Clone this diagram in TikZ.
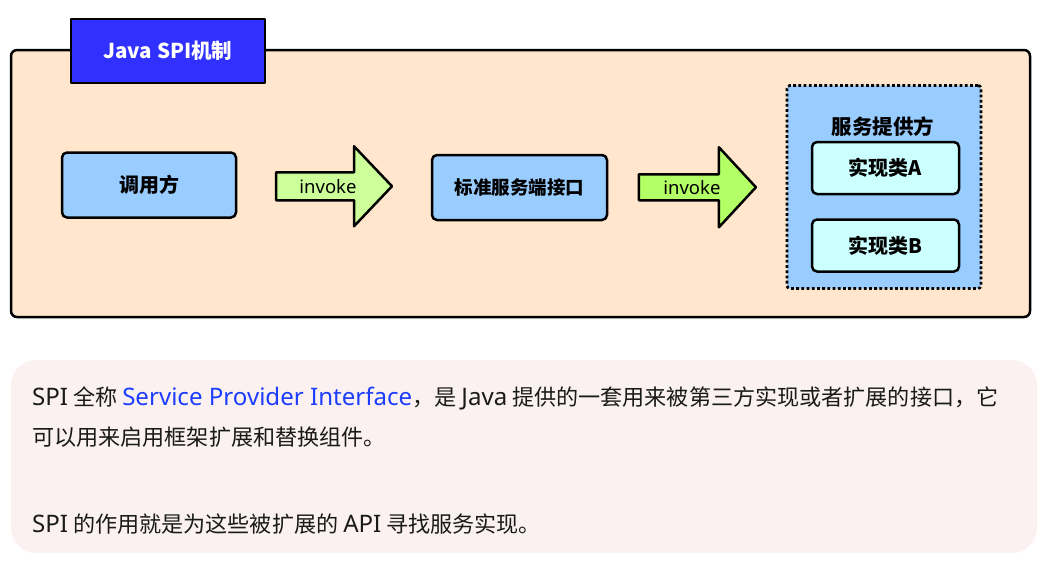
\documentclass[tikz,border=0pt]{standalone}
\usepackage{fontspec}
\usepackage{tikz}
\usetikzlibrary{positioning,calc}
\setmainfont{Noto Sans}
\newfontfamily\zh{Noto Sans CJK SC}
\newfontfamily\en{Noto Sans}[Scale=1.09]

\definecolor{peach}{HTML}{FFE6CC}
\definecolor{boxblue}{HTML}{99CCFF}
\definecolor{titleblue}{HTML}{3030FF}
\definecolor{greenA}{HTML}{CCFF99}
\definecolor{greenB}{HTML}{B3FF66}
\definecolor{implcyan}{HTML}{CCFFFF}
\definecolor{panel}{HTML}{FAF1F0}
\definecolor{link}{HTML}{1C3CFF}
\definecolor{ink}{HTML}{1A1A1A}

\begin{document}
\begin{tikzpicture}[x=1pt, y=-1pt, line join=round,
  frame/.style = {draw, line width=2.5pt, rounded corners=6pt},
  main/.style = {draw, line width=2.5pt, rounded corners=5pt, fill=boxblue, inner sep=0pt,
    font=\zh\bfseries\fontsize{20}{24}\selectfont},
  impl/.style = {main, fill=implcyan, minimum width=147pt, minimum height=52pt},
  blk/.style = {draw, line width=2.5pt},
  para/.style = {anchor=base west, inner sep=0pt, text=ink, font=\zh\fontsize{22.1}{26}\selectfont}]
\useasboundingbox (0,0) rectangle (1059,573);

% upper frame
\draw[frame, fill=peach] (11,50) rectangle (1030,317);
\node[draw, line width=2.5pt, fill=titleblue, text=white, minimum width=194pt, minimum height=64pt,
  font=\zh\bfseries\fontsize{20.5}{24}\selectfont] (title) at (168,51) {Java SPI机制};

\node[main, minimum width=174pt, minimum height=65pt] (call) at (149,185) {调用方};
\node[main, minimum width=175pt, minimum height=65pt, font=\zh\bfseries\fontsize{18.5}{22}\selectfont] (iface) at (519.5,187.5) {标准服务端接口};
\node[draw, line width=2.8pt, dash pattern=on 2.8pt off 2.4pt, rounded corners=3pt, fill=boxblue,
  minimum width=194pt, minimum height=203pt] (prov) at (884,187) {};
\node[font=\zh\bfseries\fontsize{20.5}{24}\selectfont] (provlabel) at (883,127) {服务提供方};
\node[impl] (implA) at (885.5,168) {实现类A};
\node[impl, below=23pt of implA] (implB) {实现类B};

% block arrows
\coordinate (m1) at ($(call.east)!0.5!(iface.west)$);
\coordinate (m2) at ($(iface.east)!0.5!(prov.west)$);
\draw[blk, fill=greenA] ($(m1)+(-58,-14)$) -- ++(78,0) -- ++(0,-26) -- ++(38,40) -- ++(-38,40)
  -- ++(0,-26) -- ++(-78,0) -- cycle;
\draw[blk, fill=greenB] ($(m2)+(-58,-13)$) -- ++(80,0) -- ++(0,-27) -- ++(37,40) -- ++(-37,40)
  -- ++(0,-27) -- ++(-80,0) -- cycle;
\node[font=\fontsize{18.5}{22}\selectfont, inner sep=0pt] (inv1) at ($(m1)+(-6,0)$) {invoke};
\node[font=\fontsize{18.5}{22}\selectfont, inner sep=0pt] (inv2) at ($(m2)+(-5,0)$) {invoke};

% lower text panel
\fill[panel, rounded corners=25pt] (11,360) rectangle (1037,553);
\node[para] (line1) at (32,405) {{\en SPI} 全称 \textcolor{link}{\en Service Provider Interface}，是 {\en Java} 提供的一套用来被第三方实现或者扩展的接口，它};
\node[para] (line2) at (32,445.5) {可以用来启用框架扩展和替换组件。};
\node[para] (line3) at (32,532) {{\en SPI} 的作用就是为这些被扩展的 {\en API} 寻找服务实现。};
\end{tikzpicture}
\end{document}
